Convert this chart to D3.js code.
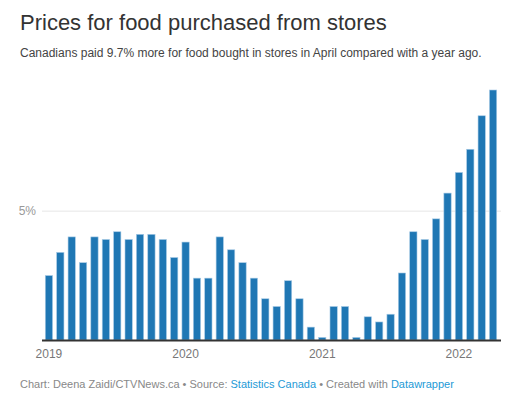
<!DOCTYPE html>
<html>
<head>
	<meta charset="utf-8">
	<title>Prices for food purchased from stores</title>
	<script src="https://d3js.org/d3.v7.min.js"></script>
	<style>
		body { margin: 0; background: #fff; font-family: "Liberation Sans", Arial, sans-serif; }
	</style>
</head>
<body>
<script>
	// Year-over-year change, food purchased from stores, Jan 2019 - Apr 2022 (%)
	var months = d3.range(40).map(function(i) { return new Date(2019, i, 1); });
	var values = [2.5, 3.4, 4.0, 3.0, 4.0, 3.9, 4.2, 3.9, 4.1, 4.1, 3.9, 3.2,
		3.8, 2.4, 2.4, 4.0, 3.5, 3.0, 2.4, 1.6, 1.3, 2.3, 1.6, 0.5,
		0.1, 1.3, 1.3, 0.1, 0.9, 0.7, 1.0, 2.6, 4.2, 3.9, 4.7, 5.7,
		6.5, 7.4, 8.7, 9.7];
	var yTicks = [5];
	var yearTicks = [2019, 2020, 2021, 2022];

	var width = 523, height = 401;
	var margin = { top: 90, right: 24, bottom: 61, left: 43 };

	var svg = d3.select('body').append('svg')
		.attr('width', width)
		.attr('height', height);

	svg.append('text')
		.attr('x', 20).attr('y', 30)
		.attr('font-size', 22)
		.attr('fill', '#333')
		.text('Prices for food purchased from stores');

	svg.append('text')
		.attr('x', 20).attr('y', 57)
		.attr('font-size', 12)
		.attr('fill', '#444')
		.text('Canadians paid 9.7% more for food bought in stores in April compared with a year ago.');

	var x = d3.scaleBand()
		.domain(months)
		.range([margin.left, width - margin.right])
		.paddingInner(0.36)
		.paddingOuter(0.2);

	var y = d3.scaleLinear()
		.domain([0, 9.7])
		.range([height - margin.bottom, margin.top]);

	// gridline + label
	var grid = svg.append('g');
	grid.selectAll('line')
		.data(yTicks)
		.enter().append('line')
		.attr('x1', margin.left - 1)
		.attr('x2', width - margin.right + 2)
		.attr('y1', function(d) { return y(d); })
		.attr('y2', function(d) { return y(d); })
		.attr('stroke', '#e6e6e6');
	grid.selectAll('text')
		.data(yTicks)
		.enter().append('text')
		.attr('x', 36)
		.attr('y', function(d) { return y(d) + 4; })
		.attr('text-anchor', 'end')
		.attr('font-size', 12)
		.attr('fill', '#999')
		.text(function(d) { return d + '%'; });

	svg.append('g').selectAll('rect')
		.data(values)
		.enter().append('rect')
		.attr('x', function(d, i) { return x(months[i]); })
		.attr('y', function(d) { return y(d); })
		.attr('width', x.bandwidth())
		.attr('height', function(d) { return y(0) - y(d); })
		.attr('fill', '#1f77b4')
		.attr('stroke', '#a8cbe6')
		.attr('stroke-width', 0.6);

	// baseline
	svg.append('line')
		.attr('x1', margin.left - 1)
		.attr('x2', width - margin.right + 2)
		.attr('y1', y(0) + 0.5)
		.attr('y2', y(0) + 0.5)
		.attr('stroke', '#333')
		.attr('stroke-width', 2);

	var xAxis = d3.axisBottom(x)
		.tickValues(yearTicks.map(function(yr) { return new Date(yr, 0, 1); }))
		.tickFormat(d3.timeFormat('%Y'))
		.tickSize(0)
		.tickPadding(9);

	var ax = svg.append('g')
		.attr('transform', 'translate(0,' + y(0) + ')')
		.call(xAxis);
	ax.select('.domain').remove();
	ax.selectAll('text')
		.attr('font-family', '"Liberation Sans", Arial, sans-serif')
		.attr('font-size', 12)
		.attr('fill', '#777');

	var foot = svg.append('text')
		.attr('x', 20).attr('y', 388)
		.attr('font-size', 11)
		.attr('fill', '#888');
	foot.append('tspan').text('Chart: Deena Zaidi/CTVNews.ca • Source: ');
	foot.append('tspan').attr('fill', '#1d9ad6').text('Statistics Canada');
	foot.append('tspan').text(' • Created with ');
	foot.append('tspan').attr('fill', '#1d9ad6').text('Datawrapper');
</script>
</body>
</html>
